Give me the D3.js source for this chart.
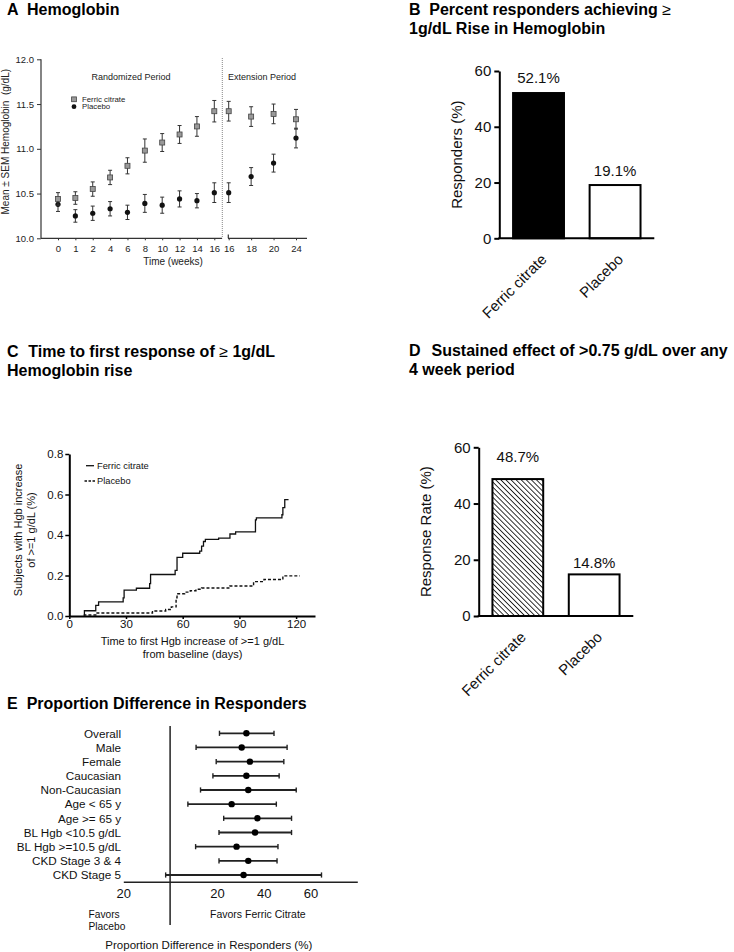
<!DOCTYPE html>
<html><head><meta charset="utf-8">
<script src="https://cdn.jsdelivr.net/npm/d3@7"></script>
<style>
body{margin:0;background:#fff;}
svg{display:block;font-family:"Liberation Sans",Arial,Helvetica,sans-serif;}
</style>
</head><body>
<svg id="c" width="734" height="952"></svg>
<script>
// ---------- Panel A data ----------
const weeksRand = ["0","1","2","4","6","8","10","12","14","16"];
const weeksExt = ["16","18","20","24"];
const fcMeanRand = [10.44,10.45,10.55,10.68,10.81,10.98,11.07,11.16,11.25,11.42];
const fcSemRand  = [0.07,0.07,0.08,0.08,0.09,0.13,0.10,0.10,0.11,0.12];
const plMeanRand = [10.38,10.25,10.28,10.33,10.29,10.39,10.37,10.44,10.42,10.51];
const plSemRand  = [0.08,0.07,0.08,0.08,0.08,0.10,0.09,0.09,0.08,0.11];
const fcMeanExt = [11.42,11.36,11.39,11.33];
const fcSemExt  = [0.11,0.11,0.11,0.11];
const plMeanExt = [10.51,10.69,10.84,11.12];
const plSemExt  = [0.11,0.10,0.10,0.11];
const hgbTicks = [10.0,10.5,11.0,11.5,12.0];

// ---------- Panels B & D data ----------
const groups = ["Ferric citrate","Placebo"];
const responders = [52.1, 19.1];
const sustained = [48.7, 14.8];
const pctTicks = [0,20,40,60];

// ---------- Panel C data (step curves) ----------
const fcDays = [8,8,14,15.5,28.5,29,35.5,42.5,43,56,57,60,69,70,71,72,79,85,88,98.5,99,112.5,113,114,116];
const fcProp = [0,0.026,0.052,0.07,0.09,0.128,0.137,0.16,0.205,0.225,0.29,0.31,0.32,0.345,0.368,0.378,0.385,0.405,0.415,0.475,0.485,0.5,0.535,0.575,0.575];
const plDays = [8,8,14,44,51,54,56.5,57,61,64,67,70,85,97.5,103,113,122];
const plProp = [0,0.005,0.015,0.025,0.032,0.045,0.09,0.11,0.118,0.125,0.132,0.138,0.148,0.17,0.18,0.198,0.198];
const dayTicks = [0,30,60,90,120];
const propTicks = [0,0.2,0.4,0.6,0.8];

// ---------- Panel E data ----------
const subgroups = ["Overall","Male","Female","Caucasian","Non-Caucasian","Age < 65 y","Age >= 65 y","BL Hgb <10.5 g/dL","BL Hgb >=10.5 g/dL","CKD Stage 3 & 4","CKD Stage 5"];
const diffEst = [32.6,30.6,34.1,32.6,33.4,26.3,37.3,36.3,28.4,33.4,31.4];
const diffLo  = [21.1,11.1,19.7,18.3,13.0,7.6,22.9,20.9,10.9,20.9,-1.9];
const diffHi  = [44.4,50.0,48.6,46.6,53.9,45.4,51.9,51.9,46.1,45.7,64.7];
const diffTicks = [-20,20,40,60];
const diffTickLabels = ["20","20","40","60"];

const svg = d3.select("#c");

function title(x, y, letter, gap, lines){
  const g = svg.append("g").attr("font-weight","bold").attr("font-size",16).attr("fill","#000");
  g.append("text").attr("x",x).attr("y",y).text(letter);
  lines.forEach((ln,i)=>{
    const t = g.append("text").attr("x", i===0 ? x+gap : x).attr("y", y + i*19.2);
    if (ln.includes("≥")) {
      const parts = ln.split("≥");
      t.append("tspan").text(parts[0]);
      t.append("tspan").attr("font-weight","normal").text("≥");
      t.append("tspan").text(parts[1]);
    } else t.text(ln);
  });
}

// ================= Panel A =================
(function(){
  const gA = svg.append("g");
  const y = d3.scaleLinear([10,12],[238.3,59.3]);
  const x1 = d3.scalePoint(weeksRand,[58,214.3]);
  const x2 = d3.scalePoint(weeksExt,[228.7,296]);
  const col = "#333";
  const ya = gA.append("g").attr("transform","translate(41,0)")
    .call(d3.axisLeft(y).tickValues(hgbTicks).tickFormat(d3.format(".1f")).tickSize(4).tickSizeOuter(0));
  ya.select(".domain").remove();
  gA.append("line").attr("x1",41).attr("x2",41).attr("y1",59.3).attr("y2",238.3).attr("stroke",col).attr("stroke-width",1.2);
  const xa1 = gA.append("g").attr("transform","translate(0,238.3)").call(d3.axisBottom(x1).tickSize(2).tickSizeOuter(0));
  const xa2 = gA.append("g").attr("transform","translate(0,238.3)").call(d3.axisBottom(x2).tickSize(2).tickSizeOuter(0));
  xa1.select(".domain").remove(); xa2.select(".domain").remove();
  gA.append("line").attr("x1",41).attr("x2",222).attr("y1",238.3).attr("y2",238.3).attr("stroke",col).attr("stroke-width",1.2);
  gA.append("line").attr("x1",228).attr("x2",307).attr("y1",238.3).attr("y2",238.3).attr("stroke",col).attr("stroke-width",1.2);
  gA.append("line").attr("x1",228.3).attr("x2",228.3).attr("y1",234.5).attr("y2",238.3).attr("stroke",col).attr("stroke-width",1.2);
  [ya,xa1,xa2].forEach(a=>{
    a.selectAll("text").attr("font-size",9.5).attr("fill","#222").attr("font-family","Liberation Sans, Arial");
    a.selectAll(".tick line").attr("stroke",col);
  });
  xa1.selectAll("text").attr("dy","0.95em");
  xa2.selectAll("text").attr("dy","0.95em");
  gA.append("line").attr("x1",222.3).attr("x2",222.3).attr("y1",58).attr("y2",238.3)
    .attr("stroke","#888").attr("stroke-width",1).attr("stroke-dasharray","1,1");
  gA.append("text").attr("x",173).attr("y",265).attr("text-anchor","middle").attr("font-size",10).attr("fill","#222").text("Time (weeks)");
  gA.append("text").attr("transform","translate(8.7,141.7) rotate(-90)").attr("text-anchor","middle").attr("font-size",10).attr("fill","#222")
    .style("white-space","pre").text("Mean ± SEM Hemoglobin  (g/dL)");
  gA.append("text").attr("x",131).attr("y",80).attr("text-anchor","middle").attr("font-size",9).attr("fill","#222").text("Randomized Period");
  gA.append("text").attr("x",262).attr("y",80).attr("text-anchor","middle").attr("font-size",9).attr("fill","#222").text("Extension Period");
  gA.append("rect").attr("x",71.6).attr("y",96.9).attr("width",4.8).attr("height",4.8).attr("fill","#999").attr("stroke","#444").attr("stroke-width",0.8);
  gA.append("circle").attr("cx",74).attr("cy",106.7).attr("r",2.4).attr("fill","#111");
  gA.append("text").attr("x",82).attr("y",102).attr("font-size",7.8).attr("fill","#222").text("Ferric citrate");
  gA.append("text").attr("x",82).attr("y",109.4).attr("font-size",7.8).attr("fill","#222").text("Placebo");

  function series(xs, cats, means, sems, kind){
    const data = cats.map((c,i)=>({x:xs(c), m:means[i], s:sems[i]}));
    const g = gA.append("g");
    g.selectAll("line.v").data(data).join("line").attr("x1",d=>d.x).attr("x2",d=>d.x)
      .attr("y1",d=>y(d.m-d.s)).attr("y2",d=>y(d.m+d.s)).attr("stroke","#333").attr("stroke-width",1);
    ["-","+"].forEach(sg=>{
      g.selectAll("line.c"+(sg==="-"?"a":"b")).data(data).join("line")
        .attr("x1",d=>d.x-2).attr("x2",d=>d.x+2)
        .attr("y1",d=>y(sg==="-"?d.m-d.s:d.m+d.s)).attr("y2",d=>y(sg==="-"?d.m-d.s:d.m+d.s))
        .attr("stroke","#333").attr("stroke-width",1);
    });
    if (kind==="sq") {
      g.selectAll("rect").data(data).join("rect").attr("x",d=>d.x-2.5).attr("y",d=>y(d.m)-2.5)
        .attr("width",5).attr("height",5).attr("fill","#999").attr("stroke","#444").attr("stroke-width",0.8);
    } else {
      g.selectAll("circle").data(data).join("circle").attr("cx",d=>d.x).attr("cy",d=>y(d.m)).attr("r",2.6).attr("fill","#111");
    }
  }
  series(x1, weeksRand, plMeanRand, plSemRand, "ci");
  series(x2, weeksExt, plMeanExt, plSemExt, "ci");
  series(x1, weeksRand, fcMeanRand, fcSemRand, "sq");
  series(x2, weeksExt, fcMeanExt, fcSemExt, "sq");
})();
title(7, 15, "A", 20, ["Hemoglobin"]);

// ================= Bar panels B & D =================
const defs = svg.append("defs");
defs.append("pattern").attr("id","hatch").attr("patternUnits","userSpaceOnUse")
  .attr("width",3.6).attr("height",3.6).attr("patternTransform","rotate(-45)")
  .append("line").attr("x1",0).attr("y1",0).attr("x2",0).attr("y2",3.6).attr("stroke","#000").attr("stroke-width",1.6);

function barPanel(opts){
  const g = svg.append("g");
  const y = d3.scaleLinear([0,60],[opts.y0,opts.y60]);
  const x = d3.scaleBand(groups,[opts.xl,opts.xr]).paddingInner(0.335).paddingOuter(0.18);
  const vals = opts.values;
  g.selectAll("rect").data(groups).join("rect")
    .attr("x",d=>x(d)).attr("width",x.bandwidth())
    .attr("y",(d,i)=>y(vals[i])).attr("height",(d,i)=>y(0)-y(vals[i]))
    .attr("fill",(d,i)=>opts.fills[i]).attr("stroke","#000").attr("stroke-width",2);
  const ya = g.append("g").attr("transform",`translate(${opts.xl},0)`)
    .call(d3.axisLeft(y).tickValues(pctTicks).tickSize(5).tickSizeOuter(0).tickPadding(3));
  ya.select(".domain").attr("stroke-width",2);
  ya.selectAll(".tick line").attr("stroke-width",2);
  ya.selectAll("text").attr("font-size",15).attr("fill","#111").attr("font-family","Liberation Sans, Arial");
  g.append("line").attr("x1",opts.xl-1).attr("x2",opts.xr).attr("y1",y(0)).attr("y2",y(0)).attr("stroke","#000").attr("stroke-width",2);
  g.selectAll("text.val").data(groups).join("text").attr("class","val")
    .attr("x",d=>x(d)+x.bandwidth()/2).attr("y",(d,i)=>y(vals[i])-opts.gaps[i])
    .attr("text-anchor","middle").attr("font-size",15).attr("fill","#111").text((d,i)=>vals[i].toFixed(1)+"%");
  g.selectAll("text.cat").data(groups).join("text").attr("class","cat")
    .attr("transform",d=>`translate(${x(d)+x.bandwidth()/2+9},${y(0)+22}) rotate(-45)`)
    .attr("text-anchor","end").attr("font-size",15).attr("fill","#111").text(d=>d);
  g.append("text").attr("transform",`translate(${opts.ylabX},${(opts.y0+opts.y60)/2}) rotate(-90)`)
    .attr("text-anchor","middle").attr("font-size",15).attr("fill","#111").text(opts.ylabel);
}
barPanel({y0:238.3, y60:71, xl:499.3, xr:654.3, values:responders, fills:["#000","#fff"], gaps:[10.3,8.6], ylabel:"Responders (%)", ylabX:462});
title(409, 15, "B", 20.3, ["Percent responders achieving ≥","1g/dL Rise in Hemoglobin"]);
barPanel({y0:616, y60:447.3, xl:478.7, xr:633.3, values:sustained, fills:["url(#hatch)","#fff"], gaps:[17.4,6.5], ylabel:"Response Rate (%)", ylabX:431});
title(409, 355.7, "D", 22.5, ["Sustained effect of >0.75 g/dL over any","4 week period"]);

// ================= Panel C =================
(function(){
  const g = svg.append("g");
  const x = d3.scaleLinear([0,130],[69.3,315]);
  const y = d3.scaleLinear([0,0.8],[616,454]);
  const xa = g.append("g").attr("transform","translate(0,616)")
    .call(d3.axisBottom(x).tickValues(dayTicks).tickSize(3).tickSizeOuter(0).tickPadding(1));
  const ya = g.append("g").attr("transform","translate(69.3,0)")
    .call(d3.axisLeft(y).tickValues(propTicks).tickFormat(d3.format(".1f")).tickSize(4).tickSizeOuter(0).tickPadding(2));
  [xa,ya].forEach(a=>{
    a.select(".domain").attr("stroke-width",2);
    a.selectAll(".tick line").attr("stroke-width",1.5);
    a.selectAll("text").attr("font-size",11.5).attr("fill","#111").attr("font-family","Liberation Sans, Arial");
  });
  const line = d3.line().x(d=>x(d[0])).y(d=>y(d[1])).curve(d3.curveStepAfter);
  g.append("path").attr("d",line(plDays.map((d,i)=>[d,plProp[i]]))).attr("fill","none")
    .attr("stroke","#111").attr("stroke-width",1.4).attr("stroke-dasharray","3,2");
  g.append("path").attr("d",line(fcDays.map((d,i)=>[d,fcProp[i]]))).attr("fill","none")
    .attr("stroke","#111").attr("stroke-width",1.3);
  g.append("line").attr("x1",86).attr("x2",94).attr("y1",465.7).attr("y2",465.7).attr("stroke","#111").attr("stroke-width",1.3);
  g.append("line").attr("x1",84.5).attr("x2",95).attr("y1",481).attr("y2",481).attr("stroke","#111").attr("stroke-width",1.3).attr("stroke-dasharray","2.5,1.5");
  g.append("text").attr("x",97).attr("y",469).attr("font-size",9.3).attr("fill","#111").text("Ferric citrate");
  g.append("text").attr("x",97).attr("y",484.3).attr("font-size",9.3).attr("fill","#111").text("Placebo");
  g.append("text").attr("x",192.5).attr("y",645).attr("text-anchor","middle").attr("font-size",11).attr("fill","#111").text("Time to first Hgb increase of >=1 g/dL");
  g.append("text").attr("x",192.5).attr("y",657.5).attr("text-anchor","middle").attr("font-size",11).attr("fill","#111").text("from baseline (days)");
  g.append("text").attr("transform","translate(21.5,530) rotate(-90)").attr("text-anchor","middle").attr("font-size",11).attr("fill","#111").text("Subjects with Hgb increase");
  g.append("text").attr("transform","translate(34.5,530) rotate(-90)").attr("text-anchor","middle").attr("font-size",11).attr("fill","#111").text("of >=1 g/dL (%)");
})();
title(7, 356.7, "C", 21.3, ["Time to first response of ≥ 1g/dL","Hemoglobin rise"]);

// ================= Panel E =================
(function(){
  const g = svg.append("g");
  const x = d3.scaleLinear([-20,80],[123.3,357.3]);
  const y = d3.scalePoint(subgroups,[733.3,875]);
  const xa = g.append("g").attr("transform","translate(0,881.7)")
    .call(d3.axisBottom(x).tickValues(diffTicks).tickFormat((d,i)=>diffTickLabels[i]).tickSize(0).tickPadding(7));
  xa.select(".domain").attr("stroke-width",1.5).attr("stroke","#222");
  xa.selectAll("text").attr("font-size",13).attr("fill","#111").attr("font-family","Liberation Sans, Arial");
  g.append("line").attr("x1",x(0)).attr("x2",x(0)).attr("y1",726).attr("y2",925).attr("stroke","#222").attr("stroke-width",1.5);
  const rows = subgroups.map((s,i)=>({s, e:diffEst[i], lo:diffLo[i], hi:diffHi[i]}));
  g.selectAll("line.ci").data(rows).join("line").attr("class","ci")
    .attr("x1",d=>x(d.lo)).attr("x2",d=>x(d.hi)).attr("y1",d=>y(d.s)).attr("y2",d=>y(d.s))
    .attr("stroke","#222").attr("stroke-width",1.8);
  g.selectAll("line.cl").data(rows).join("line").attr("class","cl")
    .attr("x1",d=>x(d.lo)).attr("x2",d=>x(d.lo)).attr("y1",d=>y(d.s)-2.6).attr("y2",d=>y(d.s)+2.6)
    .attr("stroke","#222").attr("stroke-width",1.4);
  g.selectAll("line.ch").data(rows).join("line").attr("class","ch")
    .attr("x1",d=>x(d.hi)).attr("x2",d=>x(d.hi)).attr("y1",d=>y(d.s)-2.6).attr("y2",d=>y(d.s)+2.6)
    .attr("stroke","#222").attr("stroke-width",1.4);
  g.selectAll("circle").data(rows).join("circle").attr("cx",d=>x(d.e)).attr("cy",d=>y(d.s)).attr("r",3.2).attr("fill","#000");
  g.selectAll("text.lab").data(rows).join("text").attr("class","lab")
    .attr("x",121).attr("y",d=>y(d.s)+4.2).attr("text-anchor","end").attr("font-size",11.7).attr("fill","#111").text(d=>d.s);
  g.append("text").attr("x",88.5).attr("y",918.3).attr("font-size",10.2).attr("fill","#111").text("Favors");
  g.append("text").attr("x",88.5).attr("y",930).attr("font-size",10.2).attr("fill","#111").text("Placebo");
  g.append("text").attr("x",210).attr("y",918.3).attr("font-size",10.5).attr("fill","#111").text("Favors Ferric Citrate");
  g.append("text").attr("x",208.8).attr("y",949).attr("text-anchor","middle").attr("font-size",11.5).attr("fill","#111").text("Proportion Difference in Responders (%)");
})();
title(7, 709.3, "E", 19.7, ["Proportion Difference in Responders"]);
</script>
</body></html>
